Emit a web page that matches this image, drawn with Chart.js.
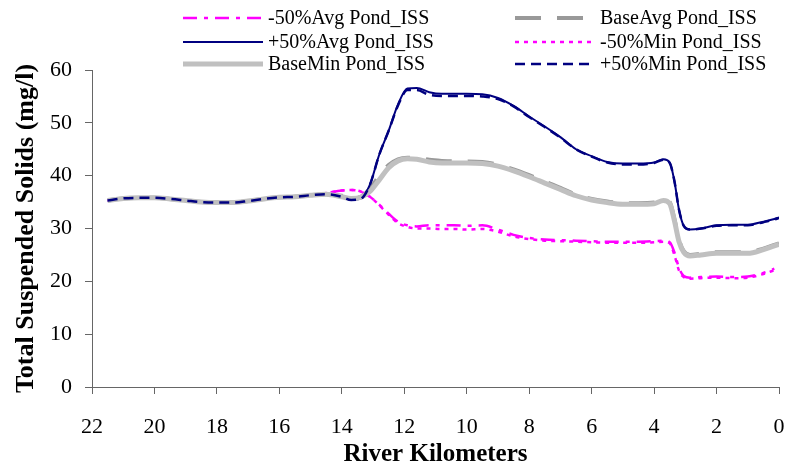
<!DOCTYPE html>
<html>
<head>
<meta charset="utf-8">
<script src="https://cdn.jsdelivr.net/npm/chart.js@4/dist/chart.umd.min.js"></script>
<style>
  html, body { margin: 0; padding: 0; background: #fff; }
  #wrap { width: 794px; height: 470px; }
</style>
</head>
<body>
<div id="wrap"><canvas id="c" width="794" height="470"></canvas></div>
<script>
// River kilometre stations (upstream -> downstream)
const km = [21.5, 21.0, 20.5, 20.0, 19.5, 19.0, 18.5, 18.0, 17.5, 17.0, 16.5, 16.0, 15.5, 15.0, 14.5, 14.0,
            13.7, 13.4, 13.1, 12.8, 12.5, 12.2, 11.9, 11.6, 11.2, 10.8, 10.4, 10.0, 9.5, 9.0, 8.5, 8.0,
            7.5, 7.0, 6.5, 6.0, 5.5, 5.0, 4.5, 4.0, 3.7, 3.5, 3.35, 3.2, 3.05, 2.85, 2.5, 2.0,
            1.5, 1.0, 0.5, 0.15, 0.0];

// Total suspended solids (mg/l) for each scenario
const minus50Avg = [35.3, 35.7, 35.8, 35.8, 35.6, 35.3, 35.0, 34.9, 34.9, 35.2, 35.6, 35.9, 36.0, 36.3, 36.7, 37.2,
                    37.3, 37.0, 36.0, 34.5, 32.8, 31.3, 30.6, 30.4, 30.6, 30.6, 30.6, 30.5, 30.6, 29.8, 28.8, 28.2,
                    27.9, 27.8, 27.7, 27.6, 27.5, 27.5, 27.5, 27.6, 27.7, 27.4, 25.5, 22.5, 21.0, 20.7, 20.8, 20.9,
                    20.8, 20.9, 21.6, 22.4, null];
const baseAvg    = [35.3, 35.7, 35.8, 35.8, 35.6, 35.3, 35.0, 34.9, 34.9, 35.2, 35.6, 35.9, 36.0, 36.3, 36.5, 36.2,
                    35.8, 36.0, 37.5, 40.0, 42.0, 43.1, 43.4, 43.4, 43.0, 42.8, 42.7, 42.7, 42.6, 42.1, 41.2, 40.1,
                    38.9, 37.7, 36.4, 35.6, 35.1, 34.8, 34.8, 34.9, 35.5, 35.0, 31.8, 27.8, 25.7, 25.0, 25.2, 25.5,
                    25.5, 25.5, 26.2, 26.9, 27.2];
const plus50Avg  = [35.3, 35.7, 35.8, 35.8, 35.6, 35.3, 35.0, 34.9, 34.9, 35.2, 35.6, 35.9, 36.0, 36.3, 36.5, 36.0,
                    35.4, 35.6, 38.3, 44.0, 48.5, 53.5, 56.5, 56.6, 55.8, 55.5, 55.5, 55.5, 55.4, 54.7, 53.2, 51.2,
                    49.3, 47.3, 45.0, 43.7, 42.6, 42.3, 42.3, 42.5, 43.1, 42.5, 39.0, 33.5, 30.5, 29.8, 30.0, 30.6,
                    30.7, 30.7, 31.3, 31.8, 32.1];
const minus50Min = [35.3, 35.7, 35.8, 35.8, 35.6, 35.3, 35.0, 34.9, 34.9, 35.2, 35.6, 35.9, 36.0, 36.3, 36.7, 37.2,
                    37.3, 37.0, 36.0, 34.4, 32.6, 31.0, 30.3, 30.0, 30.0, 29.9, 29.9, 29.8, 29.9, 29.4, 28.5, 28.0,
                    27.7, 27.6, 27.5, 27.4, 27.3, 27.3, 27.3, 27.4, 27.5, 27.2, 25.0, 22.0, 20.8, 20.5, 20.6, 20.7,
                    20.6, 20.7, 21.4, 22.1, null];
const baseMin    = [35.3, 35.7, 35.8, 35.8, 35.6, 35.3, 35.0, 34.9, 34.9, 35.2, 35.6, 35.9, 36.0, 36.3, 36.5, 36.0,
                    35.7, 35.9, 37.0, 39.2, 41.5, 42.8, 43.2, 43.1, 42.6, 42.4, 42.4, 42.4, 42.3, 41.8, 40.9, 39.8,
                    38.6, 37.4, 36.2, 35.4, 34.9, 34.6, 34.6, 34.7, 35.3, 34.7, 31.5, 27.5, 25.5, 24.8, 25.0, 25.3,
                    25.3, 25.3, 26.0, 26.7, 27.0];
const plus50Min  = [35.3, 35.7, 35.8, 35.8, 35.6, 35.3, 35.0, 34.9, 34.9, 35.2, 35.6, 35.9, 36.0, 36.3, 36.5, 36.0,
                    35.4, 35.6, 38.3, 44.0, 48.5, 53.3, 56.2, 56.2, 55.3, 55.1, 55.1, 55.1, 55.0, 54.5, 53.1, 51.1,
                    49.2, 47.2, 45.0, 43.6, 42.5, 42.1, 42.1, 42.4, 43.0, 42.4, 39.0, 33.5, 30.5, 29.8, 30.0, 30.5,
                    30.6, 30.6, 31.2, 31.7, 32.0];

const xTicks = [22, 20, 18, 16, 14, 12, 10, 8, 6, 4, 2, 0];
const yTicks = [0, 10, 20, 30, 40, 50, 60];

const FONT = '"Liberation Serif", "Times New Roman", serif';

function pts(vals) {
  const out = [];
  km.forEach((k, i) => { if (vals[i] !== null) out.push({ x: k, y: vals[i] }); });
  return out;
}

const series = [
  { label: '-50%Avg Pond_ISS', data: minus50Avg, color: '#FF00FF', width: 2.5, dash: [14, 7, 4, 7] },
  { label: 'BaseAvg Pond_ISS', data: baseAvg,    color: '#999999', width: 4,   dash: [26, 16] },
  { label: '+50%Avg Pond_ISS', data: plus50Avg,  color: '#000080', width: 2,   dash: [] },
  { label: '-50%Min Pond_ISS', data: minus50Min, color: '#FF00FF', width: 2.5, dash: [4, 5] },
  { label: 'BaseMin Pond_ISS', data: baseMin,    color: '#C0C0C0', width: 5,   dash: [] },
  { label: '+50%Min Pond_ISS', data: plus50Min,  color: '#000080', width: 2.5, dash: [10, 6] }
];

// Two-column legend drawn along the top edge
const legendPlugin = {
  id: 'twoColLegend',
  afterDraw(chart) {
    const ctx = chart.ctx;
    const cols = [{ x0: 183, x1: 263, tx: 268 }, { x0: 515, x1: 592, tx: 600 }];
    const rows = [18, 42, 64];
    ctx.save();
    chart.data.datasets.forEach((ds, i) => {
      const c = cols[i % 2];
      const y = rows[Math.floor(i / 2)];
      ctx.beginPath();
      ctx.setLineDash(ds.borderDash || []);
      ctx.lineCap = 'butt';
      ctx.lineWidth = ds.borderWidth;
      ctx.strokeStyle = ds.borderColor;
      ctx.moveTo(c.x0, y);
      ctx.lineTo(c.x1, y);
      ctx.stroke();
      ctx.setLineDash([]);
      ctx.fillStyle = '#000';
      ctx.font = '20px ' + FONT;
      ctx.textBaseline = 'middle';
      ctx.textAlign = 'left';
      ctx.fillText(ds.label, c.tx, y + 1);
    });
    ctx.restore();
  }
};

new Chart(document.getElementById('c'), {
  type: 'line',
  data: {
    datasets: series.map((s, i) => ({
      label: s.label,
      data: pts(s.data),
      borderColor: s.color,
      backgroundColor: s.color,
      borderWidth: s.width,
      borderDash: s.dash,
      pointRadius: 0,
      fill: false,
      cubicInterpolationMode: 'monotone',
      order: series.length - i
    }))
  },
  options: {
    responsive: false,
    animation: false,
    devicePixelRatio: 1,
    layout: { padding: { top: 70, right: 15, left: 0, bottom: 0 } },
    plugins: { legend: { display: false }, tooltip: { enabled: false } },
    scales: {
      x: {
        type: 'linear',
        reverse: true,
        min: 0,
        max: 22,
        afterBuildTicks(scale) { scale.ticks = xTicks.map(v => ({ value: v })); },
        afterFit(scale) { scale.height = 83; scale.paddingLeft = 0; scale.paddingRight = 0; },
        ticks: { font: { family: FONT, size: 22 }, color: '#000', padding: 20, maxRotation: 0, autoSkip: false },
        grid: { drawOnChartArea: false, drawTicks: true, tickLength: 7, color: '#666' },
        border: { color: '#666', width: 1 },
        title: { display: true, text: 'River Kilometers', color: '#000',
                 font: { family: FONT, size: 25, weight: 'bold' }, padding: { top: 0, bottom: 0 } }
      },
      y: {
        min: 0,
        max: 60,
        afterBuildTicks(scale) { scale.ticks = yTicks.map(v => ({ value: v })); },
        afterFit(scale) { scale.width = 92; scale.paddingTop = 0; scale.paddingBottom = 0; },
        ticks: { font: { family: FONT, size: 22 }, color: '#000', padding: 13 },
        grid: { drawOnChartArea: false, drawTicks: true, tickLength: 7, color: '#666' },
        border: { color: '#666', width: 1 },
        title: { display: true, text: 'Total Suspended Solids (mg/l)', color: '#000',
                 font: { family: FONT, size: 26, weight: 'bold' }, padding: { top: 11, bottom: 0 } }
      }
    }
  },
  plugins: [legendPlugin]
});
</script>
</body>
</html>
